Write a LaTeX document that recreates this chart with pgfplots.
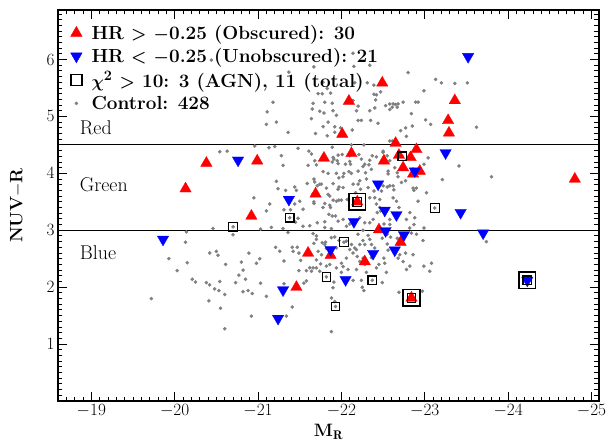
\documentclass[border=0pt]{standalone}
\usepackage{fontspec}
\usepackage{pgfplots}
\pgfplotsset{compat=1.18}
\definecolor{ctrl}{RGB}{128,128,128}
\begin{document}
\begin{tikzpicture}
\useasboundingbox (-58bp,-41bp) rectangle (558bp,401bp);
\begin{axis}[
  at={(0,0)}, anchor=south west,
  scale only axis, width=541bp, height=391bp,
  x dir=reverse, xmin=-25.09, xmax=-18.6, ymin=0, ymax=6.87,
  xtick={-25,-24,...,-19}, ytick={1,2,...,6},
  minor xtick={-25,-24.9,...,-18.6}, minor ytick={0.1,0.2,...,6.8},
  tick align=inside,
  major tick length=9bp, minor tick length=4.5bp,
  every tick/.style={black, line width=0.9bp},
  axis line style={line width=1.4bp},
  tick label style={font=\fontsize{19}{22}\selectfont},
  xlabel={\bfseries M$_{\mathbf{R}}$}, ylabel={\bfseries NUV$-$R},
  xlabel style={at={(axis description cs:0.5,-0.079)}, anchor=center, font=\fontsize{18}{20}\selectfont},
  ylabel style={at={(axis description cs:-0.0758,0.5)}, anchor=center, rotate=0, font=\fontsize{18}{20}\selectfont},
  legend style={draw=none, fill=none, at={(axis description cs:0,1)}, anchor=north west,
    xshift=12bp, yshift=-13bp, inner sep=0pt, column sep=7bp, row sep=3.5bp,
    font=\bfseries\boldmath\fontsize{19}{21}\selectfont},
  legend cell align=left,
  legend image code/.code={\draw[#1] plot coordinates {(0bp,0bp)}; \path (-6bp,-5bp) (6bp,5bp);},
]
% class boundaries
\addplot[black, line width=1.2bp, forget plot] coordinates {(-25.09,4.5) (-18.6,4.5)};
\addplot[black, line width=1.2bp, forget plot] coordinates {(-25.09,3.0) (-18.6,3.0)};
% control sample
\addplot[only marks, mark=*, mark size=1.6bp, color=ctrl, forget plot] coordinates {
(-20.44,5.99) (-22.14,6.11) (-22.34,5.90) (-22.15,5.88) (-21.67,5.87) (-21.37,5.78) (-22.80,5.77) (-23.13,5.65)
(-23.20,5.59) (-23.36,5.58) (-23.51,5.59) (-21.78,5.60) (-22.16,5.59) (-22.31,5.59) (-22.39,5.55) (-21.83,5.49)
(-21.87,5.41) (-21.77,5.40) (-21.72,5.40) (-22.99,5.45) (-22.39,5.39) (-22.42,5.38) (-22.47,5.43) (-21.66,5.23)
(-21.18,5.25) (-21.80,5.25) (-21.89,5.23) (-22.14,5.28) (-22.20,5.18) (-22.18,5.10) (-22.41,5.29) (-22.53,5.19)
(-22.58,5.22) (-22.62,5.22) (-22.65,5.21) (-22.68,5.22) (-22.61,5.16) (-22.67,5.16) (-22.74,5.25) (-22.89,5.25)
(-22.92,5.25) (-22.34,5.10) (-22.40,5.15) (-22.58,5.12) (-21.74,5.09) (-21.79,5.06) (-21.90,5.10) (-21.65,5.13)
(-21.64,4.96) (-21.11,5.08) (-21.22,4.90) (-21.10,4.86) (-21.36,4.72) (-21.69,4.70) (-22.84,5.05) (-22.20,4.93)
(-22.24,4.93) (-22.35,4.93) (-22.44,4.88) (-21.84,4.90) (-21.92,4.82) (-21.78,4.82) (-21.99,4.80) (-21.94,5.02)
(-23.01,4.94) (-23.07,4.86) (-21.83,4.66) (-22.13,4.76) (-21.92,4.72) (-22.71,4.75) (-22.77,4.80) (-22.78,4.65)
(-22.85,4.83) (-23.62,4.81) (-22.58,4.57) (-22.61,4.57) (-22.12,4.50) (-22.27,4.50) (-21.89,4.46) (-22.50,4.39)
(-20.96,4.48) (-21.13,4.45) (-21.20,4.47) (-21.48,4.44) (-21.61,4.39) (-20.54,4.38) (-20.63,4.39)
(-21.28,4.31) (-21.30,4.14) (-21.60,4.14) (-21.70,4.15) (-21.67,3.90) (-21.22,3.86) (-21.24,3.73) (-21.33,3.70)
(-21.44,3.76) (-21.46,3.70) (-21.71,3.78) (-21.74,3.81) (-21.67,3.50) (-20.95,3.57) (-21.14,3.46) (-21.10,3.34)
(-21.31,3.36) (-21.39,3.36) (-21.44,3.46) (-21.50,3.51) (-21.48,3.21) (-21.45,3.14) (-21.54,3.07) (-21.62,3.08)
(-21.71,3.13) (-21.80,3.15) (-20.46,3.03) (-21.03,3.02) (-21.16,3.05) (-21.30,3.03) (-21.36,2.96) (-20.70,2.92)
(-20.14,2.97) (-20.13,2.79) (-19.93,2.50) (-20.15,2.43) (-20.42,2.60) (-20.50,2.63) (-20.52,2.56) (-20.61,2.40)
(-20.80,2.44) (-20.89,2.60) (-21.02,2.50) (-20.98,2.42) (-21.21,2.70) (-21.26,2.63) (-21.31,2.46) (-21.41,2.70)
(-21.42,2.63) (-21.47,2.70) (-21.49,2.60) (-21.51,2.47) (-21.67,2.77) (-21.70,2.90) (-21.70,2.48) (-21.75,2.41)
(-21.81,2.79) (-21.76,2.57) (-21.92,2.88) (-21.97,2.82) (-21.86,3.44) (-21.85,3.28) (-21.93,3.25) (-21.96,3.16)
(-21.67,3.47) (-21.78,3.40) (-21.94,3.51) (-21.38,3.22) (-20.70,3.06) (-21.78,4.03) (-21.91,4.25) (-21.96,4.17)
(-21.84,3.63) (-21.96,3.72) (-21.68,4.22) (-21.64,4.34)
(-21.90,4.28) (-21.96,4.32) (-22.01,4.33) (-21.89,4.20) (-21.95,4.22) (-22.10,4.31) (-22.10,4.21) (-22.11,4.16)
(-22.21,4.33) (-22.24,4.25) (-22.28,4.16) (-22.34,4.23) (-22.33,4.15) (-22.37,4.31) (-22.42,4.29) (-22.50,4.37)
(-22.55,4.31) (-22.58,4.22) (-22.36,4.07) (-22.29,4.01) (-22.20,4.04) (-22.26,4.12) (-22.12,4.00) (-22.09,4.03)
(-22.02,3.94) (-21.97,3.92) (-22.03,4.00) (-21.94,4.00) (-21.84,4.00) (-22.05,4.16) (-21.90,3.82) (-21.97,3.76)
(-22.02,3.75) (-22.20,3.81) (-22.22,3.87) (-22.30,3.90) (-22.23,3.72) (-22.17,3.66) (-22.14,3.81) (-22.32,3.75)
(-22.39,3.69) (-22.50,3.78) (-22.55,3.76) (-22.58,3.78) (-22.62,3.78) (-22.63,3.71) (-22.48,3.69) (-22.56,3.99)
(-22.56,4.04) (-22.64,4.10) (-22.67,4.01) (-22.68,3.94) (-22.72,3.84) (-22.77,3.87) (-22.86,3.74) (-22.87,3.70)
(-22.90,3.74) (-23.02,3.66) (-22.99,4.16) (-23.04,4.27) (-23.21,3.89) (-23.41,4.13) (-23.80,3.94) (-21.86,3.60)
(-21.90,3.53) (-21.97,3.53) (-22.00,3.53) (-21.80,3.47) (-21.87,3.40) (-22.40,3.57) (-22.46,3.54) (-22.42,3.46)
(-22.34,3.57) (-22.62,3.57) (-22.66,3.51) (-22.69,3.40) (-22.92,3.51) (-22.46,3.40) (-22.47,3.34) (-22.43,3.31)
(-22.07,3.54) (-21.59,3.82) (-21.68,3.85) (-21.54,3.37) (-21.76,3.81) (-21.66,3.64) (-21.82,3.74) (-21.89,3.25)
(-22.02,3.19) (-22.22,3.22) (-22.28,3.13) (-22.34,3.13) (-22.38,3.19) (-22.82,3.31) (-22.88,3.22) (-22.78,3.19)
(-22.58,3.19) (-22.99,3.04) (-22.84,2.95) (-22.90,2.93) (-22.98,2.82) (-22.82,3.04) (-22.87,3.10) (-22.51,3.11)
(-22.58,3.10) (-22.55,2.93) (-22.59,2.88) (-22.26,3.00) (-22.32,2.91) (-22.34,2.84) (-22.26,2.82) (-22.22,2.75)
(-22.18,2.66) (-22.36,2.75) (-22.40,2.69) (-22.49,2.86) (-22.67,2.86) (-22.69,2.75) (-22.86,2.57) (-22.68,2.51)
(-22.74,2.45) (-22.51,2.51) (-23.08,2.42) (-23.74,2.80) (-21.66,2.94) (-21.70,2.84) (-21.77,2.78) (-21.82,2.68)
(-21.72,2.63) (-22.06,2.81) (-22.10,2.66) (-22.14,2.60) (-22.12,2.75) (-22.16,2.69) (-22.00,2.42) (-22.06,2.51)
(-22.26,2.51) (-22.36,2.52) (-21.88,3.03) (-21.80,3.05) (-22.06,3.07) (-22.10,3.11) (-22.20,2.93) (-22.28,2.75)
(-22.19,2.54) (-22.22,2.45) (-22.55,2.76) (-22.56,2.65) (-22.52,2.42) (-22.70,2.57) (-22.77,2.60) (-21.94,2.69)
(-21.88,2.87) (-21.80,2.75) (-22.03,2.79) (-22.73,4.30) (-23.12,3.39)
(-20.03,2.29) (-20.21,2.14) (-20.25,2.09) (-20.38,2.08) (-20.42,2.04) (-20.48,1.97) (-20.53,1.94) (-20.54,2.10)
(-20.60,1.87) (-20.73,2.08) (-20.82,1.92) (-20.88,1.94) (-20.93,1.89) (-20.41,1.76) (-20.55,1.63) (-19.72,1.80)
(-20.60,1.27) (-20.92,1.49) (-20.82,2.30) (-20.77,2.21) (-20.85,2.14) (-21.03,2.07) (-21.10,1.84) (-21.41,1.65)
(-21.34,1.49) (-21.31,2.06) (-21.49,2.29) (-21.58,2.29) (-21.58,2.11) (-21.55,2.07) (-21.62,2.34) (-21.66,2.34)
(-21.70,2.34) (-21.74,2.28) (-21.64,2.28) (-21.82,2.37) (-21.88,1.81) (-21.90,1.99) (-21.88,1.22) (-21.94,2.34)
(-22.02,2.36) (-22.08,2.31) (-22.00,2.26) (-21.91,2.09) (-21.92,1.75) (-21.82,2.18) (-21.93,1.66) (-22.37,2.12)
(-22.14,2.12) (-22.24,2.12) (-22.25,2.00) (-22.27,1.94) (-22.30,2.26) (-22.42,2.34) (-22.54,2.26) (-22.49,2.08)
(-22.69,1.91) (-22.97,1.93) (-22.82,2.37) (-22.78,2.31) (-23.06,2.28) (-22.99,2.37) (-22.18,2.31) (-21.86,2.40)
(-22.45,2.40) (-22.28,2.40) (-22.19,3.50) (-22.84,1.81) (-24.23,2.12)
};
% obscured (HR > -0.25)
\addplot[only marks, mark=triangle*, mark size=6.6bp, color=red, mark options={draw=red, fill=red, line width=0.3bp}, forget plot] coordinates {
(-20.13,3.73) (-20.38,4.18) (-20.99,4.22) (-20.92,3.25) (-21.60,2.60) (-21.46,2.00) (-21.87,2.56) (-21.69,3.64)
(-21.79,4.27) (-22.01,4.69) (-22.09,5.27) (-22.49,5.59) (-22.12,4.35) (-22.19,3.50) (-22.51,4.22) (-22.65,4.53)
(-22.69,4.32) (-22.83,4.28) (-22.90,4.42) (-22.74,4.10) (-22.94,4.04) (-22.86,3.99) (-23.28,4.93) (-23.29,4.71)
(-23.36,5.28) (-22.45,3.01) (-22.71,2.79) (-22.28,2.45) (-22.84,1.81) (-24.80,3.90)
};
% unobscured (HR < -0.25)
\addplot[only marks, mark=triangle*, mark size=6.6bp, color=blue, mark options={draw=blue, fill=blue, line width=0.3bp, rotate=180}, forget plot] coordinates {
(-23.52,6.05) (-20.76,4.23) (-23.25,4.36) (-21.37,3.54) (-22.88,4.04) (-22.44,3.81) (-22.52,3.35) (-22.66,3.27)
(-23.43,3.31) (-22.15,3.15) (-22.53,2.99) (-22.75,2.92) (-23.70,2.95) (-19.86,2.84) (-21.87,2.66) (-22.64,2.65)
(-22.38,2.59) (-21.30,1.95) (-22.05,2.13) (-21.24,1.45) (-24.23,2.12)
};
% chi^2 > 10 (all)
\addplot[only marks, mark=square, mark size=4.3bp, black, mark options={line width=1.1bp}, forget plot] coordinates {
(-22.73,4.30) (-23.12,3.39) (-22.03,2.79) (-21.82,2.18) (-22.37,2.12) (-21.93,1.66) (-21.38,3.22) (-20.70,3.06)
(-22.19,3.50) (-22.84,1.81) (-24.23,2.12)
};
% AGN
\addplot[only marks, mark=square, mark size=8.3bp, black, mark options={line width=1.6bp}, forget plot] coordinates {
(-22.19,3.50) (-22.84,1.81) (-24.23,2.12)
};
\node[anchor=west, inner sep=0pt, font=\fontsize{20}{22}\selectfont] at (axis cs:-18.86,4.80) {Red};
\node[anchor=west, inner sep=0pt, font=\fontsize{20}{22}\selectfont] at (axis cs:-18.86,3.80) {Green};
\node[anchor=west, inner sep=0pt, font=\fontsize{20}{22}\selectfont] at (axis cs:-18.86,2.60) {Blue};
\addlegendimage{only marks, mark=triangle*, mark size=6.6bp, color=red, mark options={draw=red, fill=red}}
\addlegendentry{HR $>$ $-$0.25 (Obscured): 30}
\addlegendimage{only marks, mark=triangle*, mark size=6.6bp, color=blue, mark options={draw=blue, fill=blue, rotate=180}}
\addlegendentry{HR $<$ $-$0.25 (Unobscured): 21}
\addlegendimage{only marks, mark=square, mark size=5.5bp, black, mark options={line width=1.3bp}}
\addlegendentry{$\chi^{2}$ $>$ 10: 3 (AGN), 11 (total)}
\addlegendimage{only marks, mark=*, mark size=1.6bp, color=ctrl, mark options={draw=ctrl, fill=ctrl}}
\addlegendentry{Control: 428}
\end{axis}
\end{tikzpicture}
\end{document}
